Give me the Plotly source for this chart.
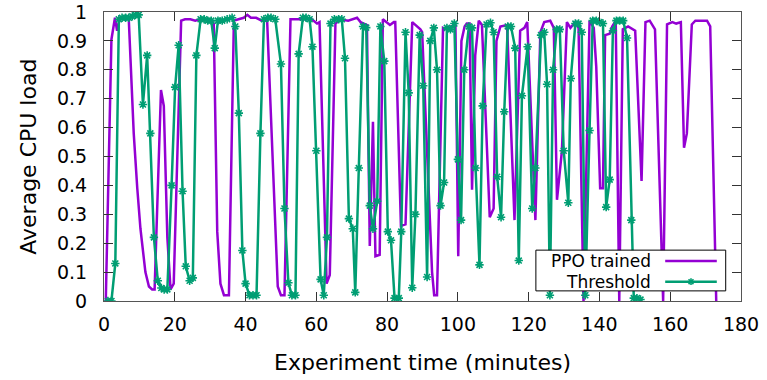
import plotly.graph_objects as go

# Threshold policy (minutes, average CPU load)
thr_t = [1.1, 2.1, 3.2, 4.2, 5.1, 6.1, 7.0, 8.0, 8.9, 9.8, 11.0, 12.2, 13.1, 14.1, 15.2, 16.2, 17.0, 17.9,
         19.1, 20.1, 21.1, 22.2, 23.1, 24.2, 25.1, 26.1, 27.3, 28.3, 29.3, 30.3, 31.3, 32.2, 33.4, 34.8,
         36.2, 37.1, 38.1, 39.1, 40.0, 41.1, 42.1, 43.1, 44.2, 45.2, 46.3, 47.2, 48.4, 50.0, 51.0, 52.1,
         53.1, 54.1, 55.0, 56.2, 57.1, 58.1, 58.9, 60.0, 61.2, 62.1, 63.0, 64.0, 65.1, 66.3, 67.2, 68.1,
         69.2, 70.3, 71.0, 72.0, 73.2, 74.1, 75.1, 76.0, 77.2, 78.1, 79.2, 80.2, 81.1, 82.1, 83.3, 84.0,
         85.2, 86.1, 87.1, 88.0, 89.2, 90.2, 91.3, 92.2, 93.2, 94.1, 95.1, 96.1, 96.9, 97.9, 99.0, 100.0,
         100.9, 101.8, 103.1, 104.0, 105.0, 106.1, 107.0, 108.1, 109.2, 110.1, 111.1, 112.2, 113.1, 114.1,
         115.0, 116.2, 117.2, 118.1, 119.7, 121.0, 121.9, 123.5, 124.4, 125.2, 126.0, 126.9, 127.9, 128.8,
         129.9, 131.2, 131.9, 133.2, 134.1, 135.0, 136.0, 137.2, 138.1, 139.1, 140.0, 141.0, 141.9, 142.9,
         143.8, 144.8, 145.7, 146.7, 147.8, 149.0, 149.7, 150.6, 151.6]
thr_load = [0.0, 0.0, 0.13, 0.975, 0.98, 0.98, 0.98, 0.985, 0.99, 0.99, 0.68, 0.85, 0.58, 0.22, 0.07, 0.045, 0.04, 0.04,
            0.40, 0.74, 0.885, 0.38, 0.12, 0.07, 0.08, 0.85, 0.975, 0.975, 0.97, 0.97, 0.875, 0.97, 0.97, 0.975,
            0.98, 0.95, 0.65, 0.175, 0.06, 0.02, 0.02, 0.02, 0.58, 0.975, 0.98, 0.98, 0.975, 0.82, 0.32, 0.063,
            0.02, 0.02, 0.855, 0.98, 0.98, 0.975, 0.88, 0.52, 0.075, 0.02, 0.22, 0.96, 0.975, 0.975, 0.975, 0.84,
            0.285, 0.25, 0.03, 0.46, 0.95, 0.946, 0.33, 0.25, 0.345, 0.95, 0.83, 0.24, 0.21, 0.01, 0.01, 0.24,
            0.93, 0.72, 0.046, 0.30, 0.92, 0.745, 0.083, 0.90, 0.945, 0.80, 0.33, 0.41, 0.945, 0.94, 0.96, 0.49,
            0.28, 0.80, 0.95, 0.945, 0.46, 0.125, 0.675, 0.957, 0.963, 0.93, 0.43, 0.29, 0.655, 0.95,
            0.95, 0.875, 0.14, 0.71, 0.88, 0.32, 0.46, 0.92, 0.93, 0.75, 0.02, 0.80, 0.94, 0.94,
            0.52, 0.34, 0.77, 0.96, 0.96, 0.93, 0.02, 0.59, 0.97, 0.97, 0.965, 0.96, 0.325, 0.42,
            0.935, 0.97, 0.97, 0.97, 0.91, 0.28, 0.01, 0.01, 0.005]

# PPO trained policy
ppo_t = [0.5, 2.1, 3.1, 3.7, 4.5, 5.6, 7.0, 8.4, 9.4, 10.3, 11.7, 12.7, 13.6, 14.3, 16.1, 16.9, 17.9, 18.8,
         19.7, 21.8, 22.9, 24.4, 25.8, 27.0, 28.5, 30.5, 31.0, 32.0, 32.9, 33.9, 35.3, 36.7, 38.0, 39.5,
         40.5, 41.5, 43.0, 44.6, 46.1, 49.1, 50.0, 51.0, 52.7, 55.4, 58.7, 60.2, 60.9, 62.9, 63.8, 65.4,
         66.8, 69.0, 71.5, 72.5, 73.4, 74.3, 75.1, 76.0, 76.7, 77.9, 78.8, 79.9, 80.8, 81.9, 82.3, 83.9,
         85.2, 87.1, 89.4, 89.9, 92.7, 93.3, 94.1, 95.8, 96.9, 98.8, 99.3, 100.1, 101.0, 101.9, 102.5, 103.3,
         104.0, 104.9, 105.9, 106.8, 109.0, 110.1, 110.9, 112.0, 113.9, 116.0, 117.6, 118.8, 119.6, 121.9,
         123.3, 124.4, 126.1, 127.1, 128.0, 129.4, 130.8, 131.8, 133.2, 134.1, 135.5, 137.2, 138.4, 139.1,
         140.2, 141.0, 141.6, 142.9, 143.6, 144.6, 145.6, 146.6, 148.1, 150.1, 151.9, 153.0, 154.2, 155.7,
         158.0, 159.1, 160.6, 161.7, 163.0, 163.9, 164.7, 166.1, 167.1, 169.9, 170.4, 171.3, 173.0]
ppo_load = [0.0, 0.905, 0.98, 0.935, 0.98, 0.98, 0.975, 0.58, 0.39, 0.25, 0.10, 0.05, 0.04, 0.04, 0.73, 0.675, 0.22, 0.04,
            0.06, 0.97, 0.975, 0.975, 0.97, 0.975, 0.975, 0.97, 0.96, 0.24, 0.06, 0.02, 0.02, 0.97, 0.975, 0.98,
            0.99, 0.98, 0.98, 0.97, 0.97, 0.05, 0.02, 0.02, 0.975, 0.975, 0.975, 0.96, 0.965, 0.06, 0.09, 0.96,
            0.975, 0.97, 0.98, 0.965, 0.96, 0.955, 0.19, 0.62, 0.155, 0.16, 0.975, 0.965, 0.955, 0.965, 0.965, 0.26,
            0.265, 0.965, 0.94, 0.93, 0.10, 0.02, 0.02, 0.945, 0.94, 0.955, 0.96, 0.155, 0.90, 0.95, 0.96, 0.96,
            0.385, 0.85, 0.97, 0.955, 0.29, 0.32, 0.90, 0.95, 0.955, 0.28, 0.935, 0.945, 0.965, 0.28,
            0.93, 0.965, 0.97, 0.945, 0.35, 0.52, 0.965, 0.945, 0.965, 0.945, 0.0, 0.97, 0.945, 0.81,
            0.39, 0.39, 0.92, 0.925, 0.95, 0.97, 0.0, 0.94, 0.95, 0.935, 0.415, 0.965, 0.97, 0.94,
            0.0, 0.957, 0.965, 0.96, 0.965, 0.53, 0.58, 0.957, 0.97, 0.97, 0.97, 0.95, 0.0]

x_ticks = [0, 20, 40, 60, 80, 100, 120, 140, 160, 180]
y_ticks = [0, 0.1, 0.2, 0.3, 0.4, 0.5, 0.6, 0.7, 0.8, 0.9, 1]
y_tick_text = ["0", "0.1", "0.2", "0.3", "0.4", "0.5", "0.6", "0.7", "0.8", "0.9", "1"]

PURPLE = "#9400D3"
GREEN = "#009E73"
FONT = "DejaVu Sans"
TICK_SIZE = 19
TITLE_SIZE = 22
LEG_SIZE = 17

fig = go.Figure()
fig.add_trace(go.Scatter(x=ppo_t, y=ppo_load, mode="lines", name="PPO trained",
                         line=dict(color=PURPLE, width=2.5), showlegend=False, cliponaxis=True))
fig.add_trace(go.Scatter(x=thr_t, y=thr_load, mode="lines+markers", name="Threshold",
                         line=dict(color=GREEN, width=2.5),
                         marker=dict(symbol="asterisk-open", size=7, color=GREEN,
                                     line=dict(color=GREEN, width=1.6)),
                         showlegend=False, cliponaxis=True))

axis_common = dict(showgrid=False, zeroline=False, showline=True, linecolor="#555555", linewidth=1,
                   mirror="ticks", ticks="inside", ticklen=9, tickcolor="#333333", tickwidth=1,
                   automargin=False, ticklabeloverflow="allow",
                   tickfont=dict(family=FONT, size=TICK_SIZE, color="black"))
fig.update_xaxes(range=[0, 180], tickvals=x_ticks, ticktext=[str(v) for v in x_ticks],
                 ticklabelstandoff=6, **axis_common)
fig.update_yaxes(range=[0, 1], tickvals=y_ticks, ticktext=y_tick_text,
                 ticklabelstandoff=12, **axis_common)

# axis titles
fig.add_annotation(xref="paper", yref="paper", x=0.5, y=-0.212, text="Experiment time (minutes)",
                   showarrow=False, xanchor="center", yanchor="middle",
                   font=dict(family=FONT, size=TITLE_SIZE, color="black"))
fig.add_annotation(xref="paper", yref="paper", x=-0.119, y=0.5, text="Average CPU load", textangle=-90,
                   showarrow=False, xanchor="center", yanchor="middle",
                   font=dict(family=FONT, size=TITLE_SIZE, color="black"))

# gnuplot-style legend box (samples on the right)
bx0, bx1, by0, by1 = 0.678, 0.976, 0.035, 0.176
fig.add_shape(type="rect", xref="paper", yref="paper", x0=bx0, x1=bx1, y0=by0, y1=by1,
              fillcolor="white", line=dict(color="black", width=1), layer="above")
rows = [("PPO trained", PURPLE, 0.138, False), ("Threshold", GREEN, 0.067, True)]
for label, col, yy, mk in rows:
    fig.add_annotation(xref="paper", yref="paper", x=0.862, y=yy, text=label, showarrow=False,
                       xanchor="right", yanchor="middle", font=dict(family=FONT, size=LEG_SIZE, color="black"))
    fig.add_shape(type="line", xref="paper", yref="paper", x0=0.881, x1=0.962, y0=yy, y1=yy,
                  line=dict(color=col, width=2.5), layer="above")
    if mk:
        cx = 0.9215
        dx, dy = 0.0055, 0.012
        for (ax0, ay0, ax1, ay1) in [(-dx, 0, dx, 0), (0, -dy, 0, dy), (-dx*0.7, -dy*0.7, dx*0.7, dy*0.7),
                                     (-dx*0.7, dy*0.7, dx*0.7, -dy*0.7)]:
            fig.add_shape(type="line", xref="paper", yref="paper", x0=cx+ax0, x1=cx+ax1,
                          y0=yy+ay0, y1=yy+ay1, line=dict(color=col, width=1.6), layer="above")

fig.update_layout(width=767, height=380, margin=dict(l=104, r=26, t=12, b=79),
                  paper_bgcolor="white", plot_bgcolor="white",
                  font=dict(family=FONT, size=TICK_SIZE, color="black"))

# remove the browser's default 8px body margin so the figure fills the window exactly
fig.write_html("out.html", config={"displayModeBar": False},
               post_script="document.body.style.margin='0';document.body.style.overflow='hidden';")
